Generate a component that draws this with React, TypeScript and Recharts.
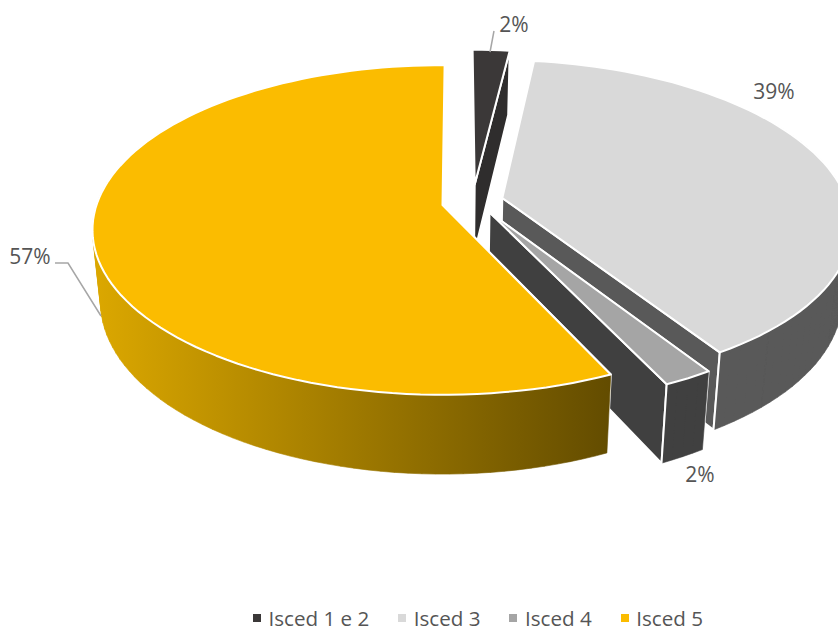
import React from 'react';
import { PieChart, Pie, Legend } from 'recharts';

const categories = ['Isced 1 e 2', 'Isced 3', 'Isced 4', 'Isced 5'];
const shares = [2, 39, 2, 57];

const topFills = ['#3b3838', '#d9d9d9', '#a5a5a5', '#fbbc00'];
const wallFills = ['#2f2d2d', '#595959', '#404040', 'url(#goldWall)'];
const cutFills = ['#2f2d2d', '#595959', '#404040', '#a67f00'];

// how far each slice is pulled out of the pie, in units of the radius
const explodeU = [0.095, 0.174, 0.135, 0];
const explodeV = [-0.13, -0.044, 0.045, 0];

// label anchor and leader line for each slice
const labelSpots = [
  { x: 514, y: 26, line: '490,52 494,31' },
  { x: 774, y: 93, line: '' },
  { x: 700, y: 476, line: '' },
  { x: 30, y: 258, line: '55,263 68,263 101,316' },
];

const rows = categories.map((name, i) => ({ name, value: shares[i], fill: topFills[i] }));

const FONT = '"Open Sans", sans-serif';
const TEXT_COLOR = '#555555';
const PERSPECTIVE = 0.1515;
const FLATTEN = 0.4654;
const DEPTH = 71;
const BOTTOM_SCALE = 0.977;

type Pt = [number, number];

// u,v are plan coordinates on the unit disc, v points at the viewer
function project(cx: number, cy: number, r: number, u: number, v: number, low: boolean): Pt {
  const s = 1 / (1 - PERSPECTIVE * v);
  const k = low ? BOTTOM_SCALE : 1;
  return [cx + r * u * s * k, cy + r * FLATTEN * v * s * k + (low ? DEPTH * s : 0)];
}

const toPath = (pts: Pt[]) => 'M' + pts.map((p) => p[0].toFixed(1) + ' ' + p[1].toFixed(1)).join('L') + 'Z';

// keeps every quad wound the same way, so overlaps in one path don't cancel out
function clockwise(pts: Pt[]) {
  let area = 0;
  pts.forEach((p, k) => {
    const q = pts[(k + 1) % pts.length];
    area += p[0] * q[1] - q[0] * p[1];
  });
  return area < 0 ? [...pts].reverse() : pts;
}

function Slice3D(props: any) {
  const { cx, cy, outerRadius: r, startAngle, endAngle, name } = props;
  const i = categories.indexOf(name);
  const ou = explodeU[i];
  const ov = explodeV[i];
  const from = 90 - startAngle;
  const to = 90 - endAngle;

  const rim = (a: number, b: number, low: boolean) => {
    const n = Math.max(2, Math.ceil(Math.abs(b - a) / 2));
    const out: Pt[] = [];
    for (let k = 0; k <= n; k++) {
      const t = ((a + ((b - a) * k) / n) * Math.PI) / 180;
      out.push(project(cx, cy, r, ou + Math.sin(t), ov - Math.cos(t), low));
    }
    return out;
  };

  const apexTop = project(cx, cy, r, ou, ov, false);
  const apexLow = project(cx, cy, r, ou, ov, true);
  const edge = { stroke: '#fff', strokeWidth: 2, strokeLinejoin: 'round' as const };

  const cut = (a: number) => [apexTop, rim(a, a, false)[0], rim(a, a, true)[0], apexLow];

  // the outer wall only shows on the front of the disc
  const wallFrom = Math.max(from, 60);
  const wallTo = Math.min(to, 300);
  let wall = '';
  if (wallTo > wallFrom) {
    // one quad per step so the silhouette between the two rims gets filled too
    const upper = rim(wallFrom, wallTo, false);
    const lower = rim(wallFrom, wallTo, true);
    for (let k = 0; k < upper.length - 1; k++) {
      wall += toPath(clockwise([upper[k], upper[k + 1], lower[k + 1], lower[k]]));
    }
  }

  return (
    <g>
      <path d={toPath(cut(from))} fill={cutFills[i]} {...edge} />
      <path d={toPath(cut(to))} fill={cutFills[i]} {...edge} />
      {wall && <path d={wall} fill={wallFills[i]} stroke={wallFills[i]} strokeWidth={0.6} />}
      {wall && to < 300 && <path d={toPath([rim(to, to, false)[0], rim(to, to, true)[0]])} {...edge} />}
      <path d={toPath([apexTop, ...rim(from, to, false)])} fill={topFills[i]} {...edge} />
    </g>
  );
}

function sliceLabel(props: any) {
  const spot = labelSpots[props.index];
  return (
    <g key={props.index}>
      {spot.line && <polyline points={spot.line} fill="none" stroke="#a6a6a6" strokeWidth={1.5} />}
      <text x={spot.x} y={spot.y} textAnchor="middle" dominantBaseline="middle" fontFamily={FONT} fontSize={21} fill={TEXT_COLOR}>
        {props.value + '%'}
      </text>
    </g>
  );
}

function legendRow(props: any) {
  const items = props.payload ?? [];
  return (
    <div style={{ display: 'flex', fontFamily: FONT, fontSize: 20.6, color: TEXT_COLOR, lineHeight: '20px', whiteSpace: 'nowrap' }}>
      {items.map((it: any) => (
        <span key={it.value} style={{ display: 'flex', alignItems: 'center', marginRight: 29 }}>
          <span style={{ width: 8, height: 8, background: it.color, marginRight: 7.5 }} />
          {it.value}
        </span>
      ))}
    </div>
  );
}

export default function App() {
  return (
    <div style={{ position: 'absolute', left: 0, top: 0, width: 838, height: 628, overflow: 'hidden', background: '#fff' }}>
      <PieChart width={838} height={628} margin={{ top: 0, right: 0, bottom: 0, left: 0 }}>
        <defs>
          <linearGradient id="goldWall" gradientUnits="userSpaceOnUse" x1="92" y1="0" x2="610" y2="0">
            <stop offset="0%" stopColor="#dca800" />
            <stop offset="100%" stopColor="#634c00" />
          </linearGradient>
        </defs>
        <Pie
          data={rows}
          dataKey="value"
          nameKey="name"
          cx={442.5}
          cy={205}
          outerRadius={346}
          startAngle={89.6}
          endAngle={-270.4}
          isAnimationActive={false}
          shape={Slice3D}
          inactiveShape={Slice3D}
          activeShape={Slice3D}
          label={sliceLabel}
          labelLine={false}
        />
        <Legend content={legendRow} wrapperStyle={{ left: 253, top: 608, width: 560, height: 20 }} />
      </PieChart>
    </div>
  );
}
